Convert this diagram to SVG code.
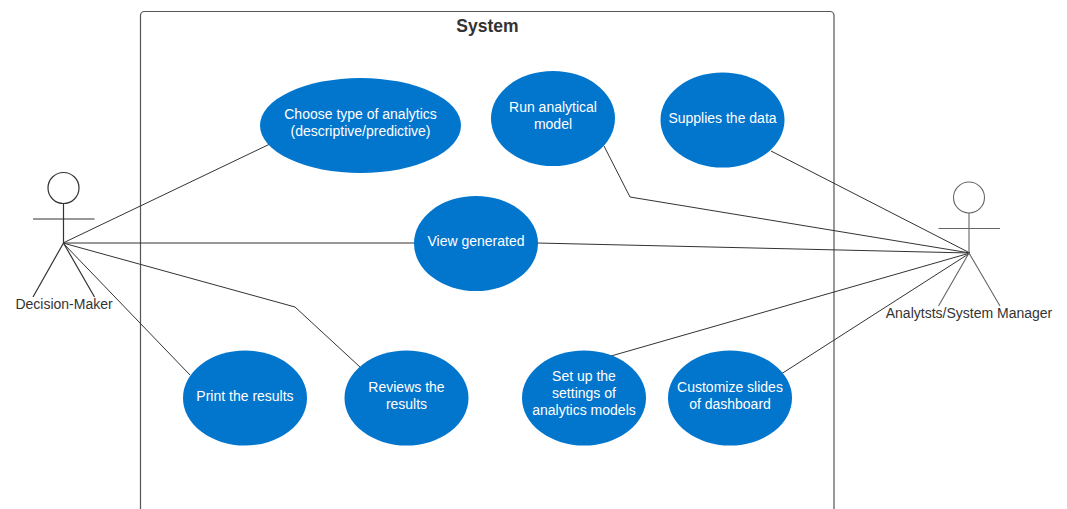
<svg xmlns="http://www.w3.org/2000/svg" width="1067" height="509" viewBox="0 0 1067 509">
<style>
text{font-family:"Liberation Sans",Arial,sans-serif;text-anchor:middle}
.u ellipse{fill:#0275cd}
.u text{fill:#fff;font-size:14px}
.a{fill:none;stroke:#333;stroke-width:1.2}
.b{fill:none;stroke:#666;stroke-width:1.1}
.l{fill:#333;font-size:14px}
#connectors path{fill:none;stroke:#333;stroke-width:1}
</style>
<rect width="1067" height="509" fill="#fff"/>
<g id="system"><path d="M140.500 509V15.500a4 4 0 0 1 4-4H830a4 4 0 0 1 4 4V509" fill="none" stroke="#555" stroke-width="1.200"/>
<text x="487.500" y="32" font-size="17.500" font-weight="700" fill="#333">System</text></g>
<g id="connectors">
<path d="M63 243L272 143"/>
<path d="M63 243H415"/>
<path d="M63 243L295 307L360 367"/>
<path d="M63 243L190 375"/>
<path d="M970 253L771 151"/>
<path d="M970 253L630 197L604 146"/>
<path d="M970 253L537 243"/>
<path d="M970 253L611 356"/>
<path d="M970 253L778 376"/>
</g>
<g id="actor-decision-maker">
<circle class="a" cx="63.500" cy="188" r="15.500"/>
<path class="a" d="M63.500 203.500V243M33 219H94.500M63.500 243L33 297M63.500 243L94.500 297"/>
<text class="l" x="64" y="308.500">Decision-Maker</text></g>
<g id="actor-analysts">
<circle class="b" cx="969" cy="197.500" r="15.500"/>
<path class="b" d="M969 213V253M938.500 228.500H1000M969 253L938.500 306M969 253L1000 306"/>
<text class="l" x="969" y="318">Analytsts/System Manager</text></g>
<g id="uc-choose" class="u"><ellipse cx="360.500" cy="125.500" rx="100.500" ry="47.500"/><text x="360.500" y="119">Choose type of analytics</text><text x="360.500" y="136">(descriptive/predictive)</text></g>
<g id="uc-run" class="u"><ellipse cx="553" cy="118.500" rx="62" ry="47.500"/><text x="553" y="112">Run analytical</text><text x="553" y="129">model</text></g>
<g id="uc-supplies" class="u"><ellipse cx="722.500" cy="120" rx="62" ry="47.500"/><text x="722.500" y="122.500">Supplies the data</text></g>
<g id="uc-view" class="u"><ellipse cx="476" cy="243.500" rx="62" ry="47.500"/><text x="476" y="246">View generated</text></g>
<g id="uc-print" class="u"><ellipse cx="245" cy="398" rx="62" ry="47.500"/><text x="245" y="400.500">Print the results</text></g>
<g id="uc-reviews" class="u"><ellipse cx="406.500" cy="398" rx="62" ry="47.500"/><text x="406.500" y="392">Reviews the</text><text x="406.500" y="409">results</text></g>
<g id="uc-settings" class="u"><ellipse cx="584" cy="398" rx="62" ry="47.500"/><text x="584" y="380.500">Set up the</text><text x="584" y="397.500">settings of</text><text x="584" y="414.500">analytics models</text></g>
<g id="uc-customize" class="u"><ellipse cx="730" cy="398" rx="62" ry="47.500"/><text x="730" y="392">Customize slides</text><text x="730" y="409">of dashboard</text></g>
</svg>
